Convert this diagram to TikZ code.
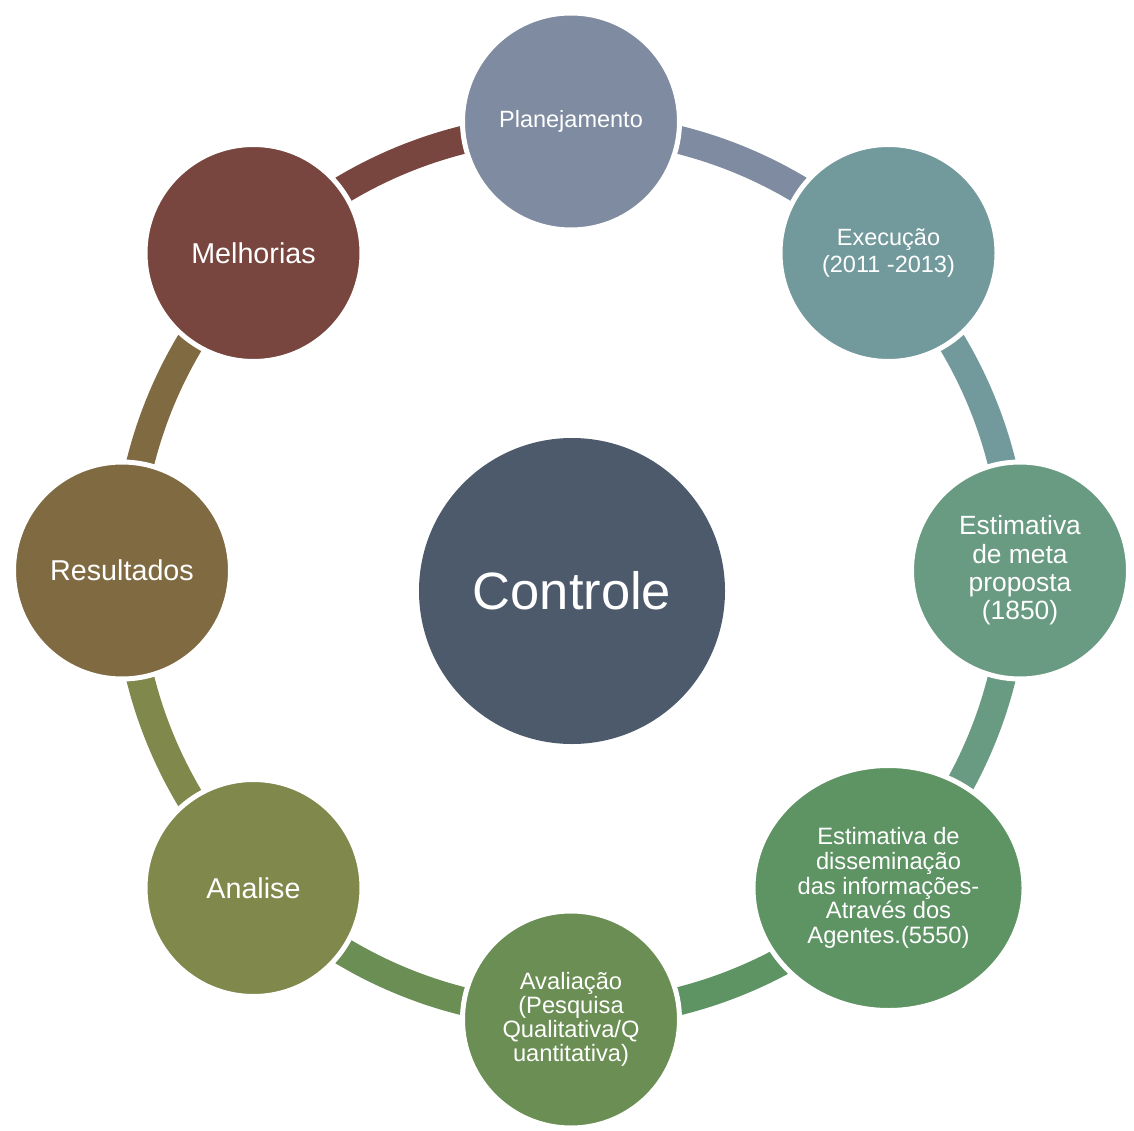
\documentclass[tikz,border=0pt]{standalone}
\usepackage{fontspec}
\setmainfont{Liberation Sans}
\usetikzlibrary{shapes.geometric,calc}
\definecolor{cPlan}{HTML}{7F8BA0}
\definecolor{cExec}{HTML}{72999B}
\definecolor{cMeta}{HTML}{699A82}
\definecolor{cDiss}{HTML}{5E9364}
\definecolor{cAval}{HTML}{6A8E53}
\definecolor{cAnal}{HTML}{80884B}
\definecolor{cResu}{HTML}{7F6A42}
\definecolor{cMelh}{HTML}{78463F}
\definecolor{cCtrl}{HTML}{4C5A6B}
\begin{document}
\begin{tikzpicture}[x=1pt,y=1pt,
  bub/.style={circle, draw=white, line width=5pt, minimum size=217pt, inner sep=0pt,
    text=white, align=center},
  ring/.style={line width=28pt, line cap=butt},
  fsmall/.style={font=\fontsize{23.5}{25.5}\selectfont},
  fbig/.style={font=\fontsize{28.7}{31}\selectfont}]
\useasboundingbox (0,0) rectangle (1134,-1131);
\coordinate (ctr) at (571,-570.5);
% node positions
\coordinate (pPlan) at (571,-121.5);
\coordinate (pExec) at (888.5,-253);
\coordinate (pMeta) at (1020,-570.5);
\coordinate (pDiss) at (888.5,-888);
\coordinate (pAval) at (571,-1019.5);
\coordinate (pAnal) at (253.5,-888);
\coordinate (pResu) at (122,-570.5);
\coordinate (pMelh) at (253.5,-253);
% connecting arcs (slightly inside the ring of centres)
\draw[ring, cPlan] ($(pPlan)!5pt!(ctr)$) arc[start angle=90, end angle=45, radius=444];
\draw[ring, cExec] ($(pExec)!5pt!(ctr)$) arc[start angle=45, end angle=0, radius=444];
\draw[ring, cMeta] ($(pMeta)!5pt!(ctr)$) arc[start angle=0, end angle=-45, radius=444];
\draw[ring, cDiss] ($(pDiss)!5pt!(ctr)$) arc[start angle=-45, end angle=-90, radius=444];
\draw[ring, cAval] ($(pAval)!5pt!(ctr)$) arc[start angle=-90, end angle=-135, radius=444];
\draw[ring, cAnal] ($(pAnal)!5pt!(ctr)$) arc[start angle=-135, end angle=-180, radius=444];
\draw[ring, cResu] ($(pResu)!5pt!(ctr)$) arc[start angle=180, end angle=135, radius=444];
\draw[ring, cMelh] ($(pMelh)!5pt!(ctr)$) arc[start angle=135, end angle=90, radius=444];
% nodes
\node[circle, fill=cCtrl, minimum size=306pt, inner sep=0pt, text=white,
  font=\fontsize{52.5}{56}\selectfont] (ctrl) at (572,-591) {Controle};
\node[bub, fill=cPlan, fsmall] (plan) at (pPlan) {Planejamento};
\node[bub, fill=cExec, font=\fontsize{23.5}{26.7}\selectfont] (exec) at (pExec) {Execução\\(2011 -2013)};
\node[bub, fill=cMeta, font=\fontsize{26.4}{28.3}\selectfont] (meta) at (pMeta) {Estimativa\\de meta\\proposta\\(1850)};
\node[ellipse, draw=white, line width=5pt, minimum width=271pt, minimum height=245pt,
  inner sep=0pt, text=white, align=center, fill=cDiss,
  font=\fontsize{23.7}{24.7}\selectfont] (diss) at (pDiss)
  {Estimativa de\\disseminação\\das informações-\\Através dos\\Agentes.(5550)};
\node[bub, fill=cAval, font=\fontsize{23.7}{24}\selectfont] (aval) at (pAval)
  {Avaliação\\(Pesquisa\\Qualitativa/Q\\uantitativa)};
\node[bub, fill=cAnal, fbig] (anal) at (pAnal) {Analise};
\node[bub, fill=cResu, fbig] (resu) at (pResu) {Resultados};
\node[bub, fill=cMelh, fbig] (melh) at (pMelh) {Melhorias};
\end{tikzpicture}
\end{document}
